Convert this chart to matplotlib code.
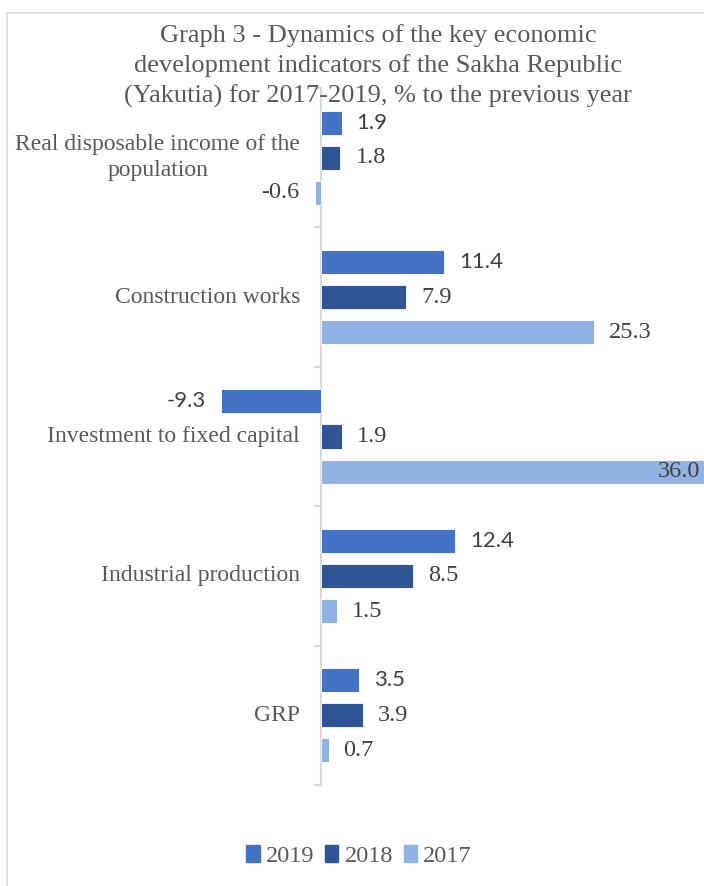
import matplotlib
matplotlib.use("Agg")
import matplotlib.pyplot as plt
from matplotlib.patches import Rectangle
import numpy as np

categories = ["GRP", "Industrial production", "Investment to fixed capital",
              "Construction works", "Real disposable income of the\npopulation"]
series_names = ["2019", "2018", "2017"]
v2019 = [3.5, 12.4, -9.3, 11.4, 1.9]
v2018 = [3.9, 8.5, 1.9, 7.9, 1.8]
v2017 = [0.7, 1.5, 36.0, 25.3, -0.6]
colors = ["#4472C4", "#2F5597", "#8FB4E3"]
title = ("Graph 3 - Dynamics of the key economic\n"
         "development indicators of the Sakha Republic\n"
         "(Yakutia) for 2017-2019, % to the previous year")

W, H = 704, 886
fig = plt.figure(figsize=(W / 100, H / 100), dpi=100)
SERIF = "Liberation Serif"
SANS = "Lato"
TXT = "#404040"

# chart border
fig.patches.append(Rectangle((7 / W, -0.01), 1.2, 1 - 13 / H + 0.01, transform=fig.transFigure,
                             fill=False, edgecolor="#D9D9D9", linewidth=1.2))

ax_l, ax_r, ax_t, ax_b = 10, 704, 88, 785
ax = fig.add_axes([ax_l / W, 1 - ax_b / H, (ax_r - ax_l) / W, (ax_b - ax_t) / H])
ppu = 10.8
x0 = 321
xmin = (ax_l - x0) / ppu
xmax = (ax_r - x0) / ppu
ax.set_xlim(xmin, xmax)
ax.set_ylim(-0.5, len(categories) - 0.5)
ax.axis("off")

y = np.arange(len(categories))
off = 35 / 139
bh = 24 / 139
all_vals = [v2019, v2018, v2017]
fonts = [SANS, SERIF, SERIF]
sizes = [16, 17.5, 17.5]
for i, (vals, c) in enumerate(zip(all_vals, colors)):
    yy = y + off * (1 - i)
    ax.barh(yy, vals, height=bh, color=c, edgecolor="white", linewidth=0.6, zorder=2)
    for yi, v in zip(yy, vals):
        lab = f"{v:.1f}"
        kw = dict(va="center", fontsize=sizes[i], family=fonts[i], color=TXT, zorder=3)
        if v > xmax:
            ax.text(xmax - 4 / ppu, yi, lab, ha="right", **kw)
        elif v >= 0:
            ax.text(v + 15 / ppu, yi, lab, ha="left", **kw)
        else:
            ax.text(v - 15 / ppu, yi, lab, ha="right", **kw)

# vertical axis line and ticks
ax.plot([0, 0], [-0.5, len(categories) - 0.5], color="#D9D9D9", lw=1.5, zorder=1, clip_on=False)
for b in np.arange(-0.5, len(categories), 1.0):
    ax.plot([-6 / ppu, 0], [b, b], color="#D9D9D9", lw=1.5, zorder=1, clip_on=False)

# category labels
for yi, cat in zip(y, categories):
    ax.text(-21 / ppu, yi, cat, ha="right", va="center", fontsize=17, family=SERIF,
            color="#595959", multialignment="center", linespacing=1.3, zorder=3)

fig.text(378 / W, 1 - 66 / H, title, ha="center", va="center", fontsize=19,
         family=SERIF, color="#595959", linespacing=1.42)

# legend
handles = [Rectangle((0, 0), 1, 1, color=c) for c in colors]
fig.legend(handles, series_names, loc="center", bbox_to_anchor=(359 / W, 1 - 856 / H),
           ncol=3, frameon=False, prop={"family": SERIF, "size": 17.5},
           handlelength=0.55, handleheight=0.7, handletextpad=0.25, columnspacing=0.45,
           labelcolor="#595959")

fig.savefig("out.png", dpi=100)
